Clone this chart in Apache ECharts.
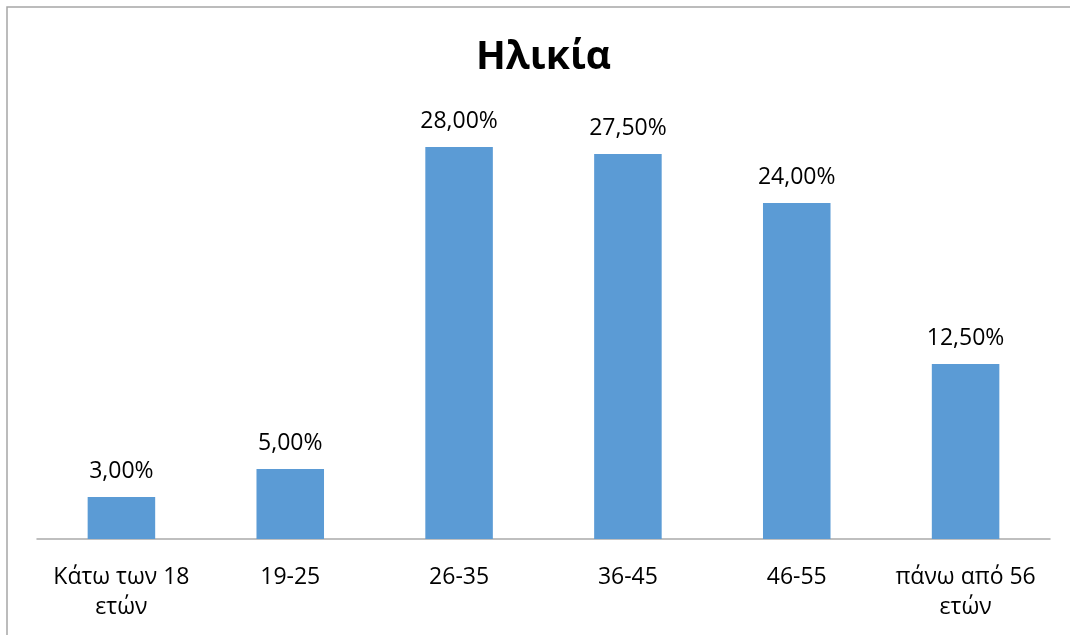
<!DOCTYPE html>
<html>
<head>
<meta charset="utf-8">
<title>Ηλικία</title>
<script src="https://cdn.jsdelivr.net/npm/echarts@6/dist/echarts.min.js"></script>
<style>
  html, body {margin: 0; padding: 0; background: #fff;}
  #chart {width: 1070px; height: 635px;}
</style>
</head>
<body>
<div id="chart"></div>
<script>
// age groups and their share (%)
const categories = ['Κάτω των 18\nετών', '19-25', '26-35', '36-45', '46-55', 'πάνω από 56\nετών']
const values = [3.0, 5.0, 28.0, 27.5, 24.0, 12.5]

const chart = echarts.init(document.getElementById('chart'))

const fmt = (v) => v.toFixed(2).replace('.', ',') + '%'

chart.setOption({
  animation: false,
  textStyle: {fontFamily: '"Open Sans", sans-serif'},
  title: {
    text: 'Ηλικία',
    left: 471,
    top: 33,
    textStyle: {fontSize: 39, fontWeight: 'bold', color: '#000', fontFamily: '"Open Sans", sans-serif'}
  },
  // chart frame (only top and left edges visible)
  graphic: [{
    type: 'polyline',
    shape: {points: [[7, 640], [7, 7], [1075, 7]]},
    style: {stroke: '#A6A6A6', lineWidth: 1.5, fill: null}
  }],
  grid: {left: 37, right: 20, top: 119, bottom: 96},
  xAxis: {
    type: 'category',
    data: categories,
    axisTick: {show: false},
    axisLine: {lineStyle: {color: '#ABABAB', width: 1.5}},
    axisLabel: {
      color: '#000',
      fontSize: 23,
      lineHeight: 30,
      margin: 23,
      interval: 0
    }
  },
  yAxis: {
    type: 'value',
    min: 0,
    max: 30,
    show: false,
    splitLine: {show: false}
  },
  series: [{
    type: 'bar',
    data: values,
    barCategoryGap: '60%',
    itemStyle: {color: '#5B9BD5'},
    label: {
      show: true,
      position: 'top',
      distance: 14,
      color: '#000',
      fontSize: 23,
      formatter: (p) => fmt(p.value)
    }
  }]
})
</script>
</body>
</html>
